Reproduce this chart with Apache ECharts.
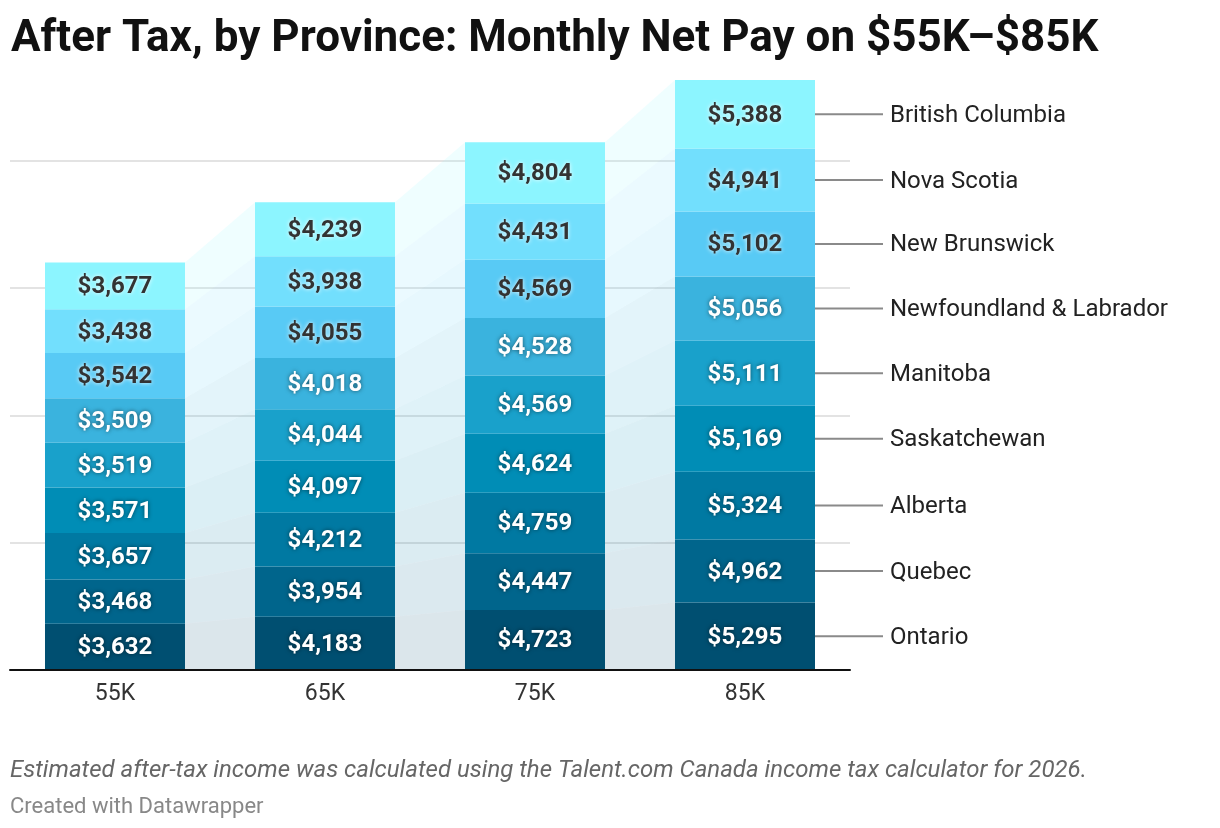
<!DOCTYPE html>
<html>
<head>
<meta charset="utf-8">
<script src="https://cdn.jsdelivr.net/npm/echarts@6/dist/echarts.min.js"></script>
<style>
  html, body { margin: 0; padding: 0; background: #fff; }
  #chart { width: 1220px; height: 828px; }
</style>
</head>
<body>
<div id="chart"></div>
<script>
// salary brackets on the x axis
const incomes = ['55K', '65K', '75K', '85K'];

// provinces, bottom of the stack first
const provinces = ['Ontario', 'Quebec', 'Alberta', 'Saskatchewan', 'Manitoba',
  'Newfoundland & Labrador', 'New Brunswick', 'Nova Scotia', 'British Columbia'];

// monthly net pay per province, one value per bracket
const ontario      = [3632, 4183, 4723, 5295];
const quebec       = [3468, 3954, 4447, 4962];
const alberta      = [3657, 4212, 4759, 5324];
const saskatchewan = [3571, 4097, 4624, 5169];
const manitoba     = [3519, 4044, 4569, 5111];
const newfoundland = [3509, 4018, 4528, 5056];
const newBrunswick = [3542, 4055, 4569, 5102];
const novaScotia   = [3438, 3938, 4431, 4941];
const britishCol   = [3677, 4239, 4804, 5388];

const values = [ontario, quebec, alberta, saskatchewan, manitoba,
  newfoundland, newBrunswick, novaScotia, britishCol];

const colors = ['#004f71', '#00658c', '#0079a2', '#008db6', '#19a1cb',
  '#3ab3de', '#58caf5', '#72dffd', '#8cf5ff'];
const darkText = [false, false, false, false, false, false, true, true, true];

// stacked bases for each province/bracket
const bases = values.map((_, p) => incomes.map((_, k) => {
  let s = 0;
  for (let j = 0; j < p; j++) s += values[j][k];
  return s;
}));

const BAR_RATIO = 2 / 3;
const fmt = v => '$' + v.toLocaleString('en-US');

const barSeries = provinces.map((name, p) => ({
  name: name,
  type: 'bar',
  stack: 'total',
  barCategoryGap: '33.33%',
  z: 3,
  itemStyle: { color: colors[p] },
  label: {
    show: true,
    position: 'inside',
    offset: [0, 1.5],
    formatter: d => fmt(d.value),
    fontFamily: 'Roboto',
    fontSize: 24,
    fontWeight: 'bold',
    color: darkText[p] ? '#333333' : '#ffffff',
    textShadowColor: darkText[p] ? 'rgba(255,255,255,0.9)' : 'rgba(0,0,0,0.55)',
    textShadowBlur: 4
  },
  data: values[p]
}));

// faint connecting bands between neighbouring bars
const bandSeries = provinces.map((name, p) => ({
  type: 'custom',
  z: 1,
  silent: true,
  renderItem: (params, api) => {
    const k = api.value(0);
    const bw = api.size([1, 0])[0] * BAR_RATIO;
    const a0 = api.coord([k, api.value(1)]);
    const a1 = api.coord([k, api.value(2)]);
    const b0 = api.coord([k + 1, api.value(3)]);
    const b1 = api.coord([k + 1, api.value(4)]);
    const xl = a0[0] + bw / 2, xr = b0[0] - bw / 2;
    return {
      type: 'polygon',
      shape: { points: [[xl, a0[1]], [xl, a1[1]], [xr, b1[1]], [xr, b0[1]]] },
      style: { fill: colors[p], opacity: 0.14 }
    };
  },
  data: [0, 1, 2].map(k => [k, bases[p][k], bases[p][k] + values[p][k],
    bases[p][k + 1], bases[p][k + 1] + values[p][k + 1]])
}));

// province names to the right of the last bar
const last = incomes.length - 1;
const nameSeries = {
  type: 'custom',
  z: 4,
  silent: true,
  renderItem: (params, api) => {
    const bw = api.size([1, 0])[0] * BAR_RATIO;
    const pt = api.coord([api.value(0), api.value(1)]);
    const x0 = pt[0] + bw / 2;
    return {
      type: 'group',
      children: [
        { type: 'line', shape: { x1: x0, y1: pt[1], x2: x0 + 68, y2: pt[1] },
          style: { stroke: '#8a8a8a', lineWidth: 2 } },
        { type: 'text', style: { x: x0 + 75, y: pt[1] + 1.5, text: provinces[params.dataIndex],
          fill: '#222222', font: '24px Roboto', verticalAlign: 'middle', align: 'left' } }
      ]
    };
  },
  data: provinces.map((_, p) => [last, bases[p][last] + values[p][last] / 2])
};

const chart = echarts.init(document.getElementById('chart'));
chart.setOption({
  animation: false,
  title: [
    { text: 'After Tax, by Province: Monthly Net Pay on $55K\u2013$85K', left: 6, top: 13,
      textStyle: { fontFamily: 'Roboto', fontSize: 44, fontWeight: 'bold', color: '#111' } },
    { text: 'Estimated after-tax income was calculated using the Talent.com Canada income tax calculator for 2026.',
      left: 5, top: 754,
      textStyle: { fontFamily: 'Roboto', fontSize: 24, fontStyle: 'italic', fontWeight: 'normal', color: '#666' } },
    { text: 'Created with Datawrapper', left: 5, top: 791,
      textStyle: { fontFamily: 'Roboto', fontSize: 22, fontWeight: 'normal', color: '#888' } }
  ],
  grid: { left: 10, width: 840, top: 33.5, bottom: 158 },
  xAxis: {
    type: 'category',
    data: incomes,
    axisTick: { show: false },
    axisLine: { lineStyle: { color: '#111', width: 2 } },
    axisLabel: { fontFamily: 'Roboto', fontSize: 23, color: '#333', margin: 13 },
    z: 5
  },
  yAxis: {
    type: 'value',
    min: 0,
    max: 50000,
    interval: 10000,
    axisLabel: { show: false },
    axisLine: { show: false },
    axisTick: { show: false },
    splitLine: { showMaxLine: false, lineStyle: { color: '#e3e3e3', width: 2 } }
  },
  series: [...bandSeries, ...barSeries, nameSeries]
});
</script>
</body>
</html>
